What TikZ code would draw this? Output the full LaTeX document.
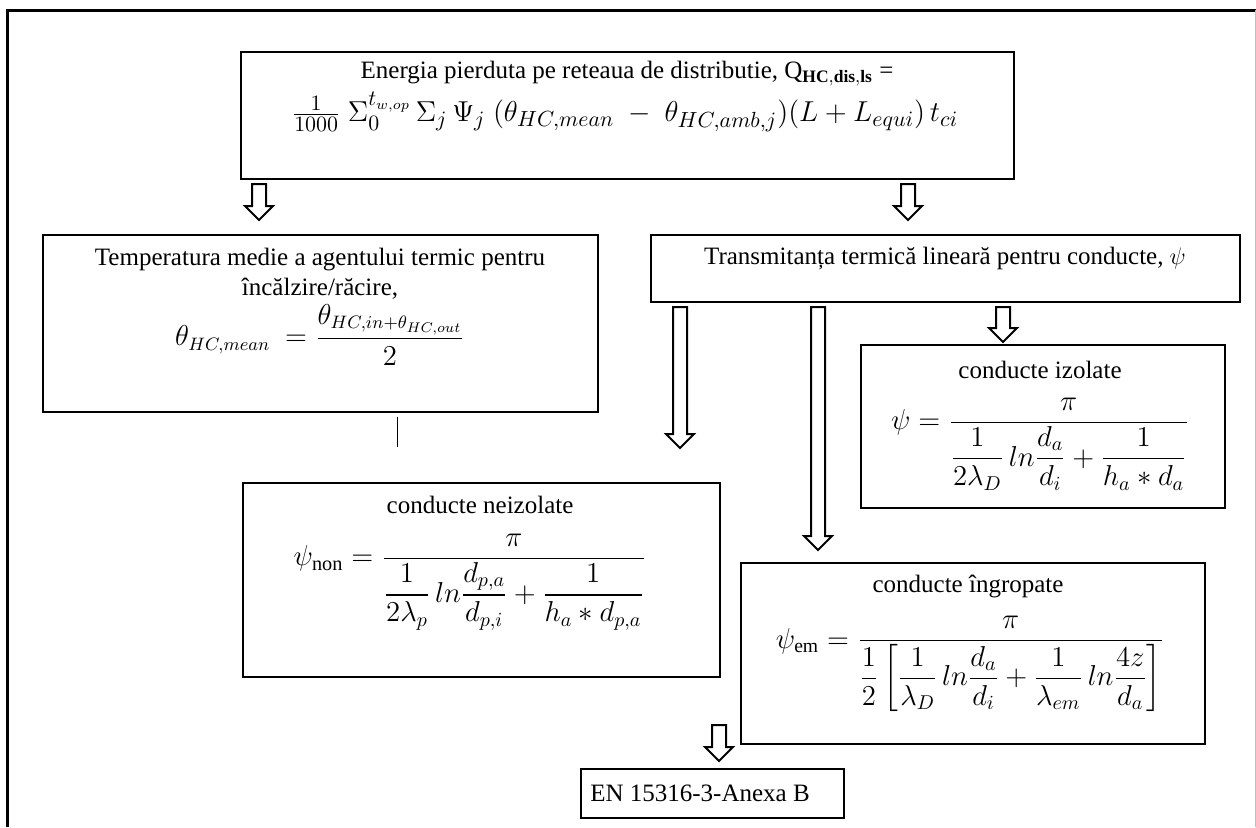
\documentclass[tikz,border=0pt]{standalone}
\usepackage{amsmath, amssymb}
\usepackage{fontspec}
\setmainfont{Liberation Serif}
\usetikzlibrary{positioning, calc}

% hollow block arrow pointing down, from #1 to #2
\newcommand{\hollowdown}[2]{%
  \draw[blockarrow] ($(#1)+(-7,0)$) -- ($(#2)+(-7,-14)$) -- ($(#2)+(-14,-14)$) -- (#2)
    -- ($(#2)+(14,-14)$) -- ($(#2)+(7,-14)$) -- ($(#1)+(7,0)$) -- cycle;}

\begin{document}
\begin{tikzpicture}[x=0.5pt, y=-0.5pt,
    box/.style={draw, line width=0.7pt, inner sep=0pt},
    txt/.style={font=\fontsize{12.5}{14}\selectfont, align=center, inner sep=0pt},
    formula/.style={font=\fontsize{14.5}{17}\selectfont, inner sep=0pt},
    blockarrow/.style={draw, line width=1pt, fill=white}]
        \useasboundingbox (0,0) rectangle (1256,827);
        % page frame
        \draw[line width=1.5pt] (7,827) -- (7,10) -- (1256,10);
        \draw[black!25] (1255,10) -- (1255,827);

        % boxes
        \node[box, minimum width=386.5pt, minimum height=63.5pt] (energy) at (627.5,115.5) {};
        \node[box, minimum width=277.5pt, minimum height=88.5pt] (temp) at (320.5,323.5) {};
        \node[box, minimum width=294.5pt, minimum height=33.5pt] (transm) at (945.5,268.5) {};
        \node[box, minimum width=182pt, minimum height=81.5pt] (izol) at (1043,426.5) {};
        \node[box, minimum width=238.5pt, minimum height=97pt] (neizol) at (481.5,580) {};
        \node[box, minimum width=232pt, minimum height=90.5pt] (ingrop) at (973,653.5) {};
        \node[box, minimum width=131.5pt, minimum height=24.5pt] (anexa) at (712.5,793.5) {};

        % texts
        \node[txt] (energyT) at (627,74) {Energia pierduta pe reteaua de distributie, Q$_{\mathbf{HC,dis,ls}}$ =};
        \node[formula, font=\fontsize{15}{18}\selectfont] (energyF) at (625,112) {$\tfrac{1}{1000}\ \Sigma_0^{t_{w,op}}\,\Sigma_j\,\Psi_j\ (\theta_{HC,mean}\ -\ \theta_{HC,amb,j})(L+L_{equi})\,t_{ci}$};
        \node[txt] (tempT) at (320,274) {Temperatura medie a agentului termic pentru\\[1pt] încălzire/răcire,};
        \node[formula, font=\fontsize{13.5}{16}\selectfont] (tempF) at (320,335) {$\theta_{HC,mean}\ = \dfrac{\theta_{HC,in+\theta_{HC,out}}}{2}$};
        \node[txt] (transmT) at (945,258) {Transmitanța termică lineară pentru conducte, $\psi$};
        \node[txt] (izolT) at (1040,370) {conducte izolate};
        \node[formula] (izolF) at (1040,444) {$\psi = \dfrac{\pi}{\dfrac{1}{2\lambda_D}\,ln\dfrac{d_a}{d_i}+\dfrac{1}{h_a * d_a}}$};
        \node[txt] (neizolT) at (480,505) {conducte neizolate};
        \node[formula] (neizolF) at (470,582) {$\psi_{\textnormal{non}} = \dfrac{\pi}{\dfrac{1}{2\lambda_p}\,ln\dfrac{d_{p,a}}{d_{p,i}}+\dfrac{1}{h_a * d_{p,a}}}$};
        \node[txt] (ingropT) at (968,586) {conducte îngropate};
        \node[formula, font=\fontsize{14}{17}\selectfont] (ingropF) at (970,664) {$\psi_{\textnormal{em}} = \dfrac{\pi}{\dfrac{1}{2}\left[\dfrac{1}{\lambda_D}\,ln\dfrac{d_a}{d_i}+\dfrac{1}{\lambda_{em}}\,ln\dfrac{4z}{d_a}\right]}$};
        \node[txt] (anexaT) at (700,793) {EN 15316-3-Anexa B};

        % arrow ends
        \coordinate (a1s) at (259,184);  \coordinate (a1e) at (259,220);
        \coordinate (a2s) at (908,184);  \coordinate (a2e) at (908,220);
        \coordinate (a3s) at (680,307);  \coordinate (a3e) at (680,448);
        \coordinate (a4s) at (818,307);  \coordinate (a4e) at (818,550);
        \coordinate (a5s) at (1003,307); \coordinate (a5e) at (1003,342);
        \coordinate (a6s) at (719,725);  \coordinate (a6e) at (719,761);
        \hollowdown{a1s}{a1e}
        \hollowdown{a2s}{a2e}
        \hollowdown{a3s}{a3e}
        \hollowdown{a4s}{a4e}
        \hollowdown{a5s}{a5e}
        \hollowdown{a6s}{a6e}

        % line under the temperature box
        \coordinate (tempfoot) at (397,447);
        \draw[line width=0.5pt] (temp.south -| tempfoot) ++(0,4) -- (tempfoot);
    \end{tikzpicture}
\end{document}
